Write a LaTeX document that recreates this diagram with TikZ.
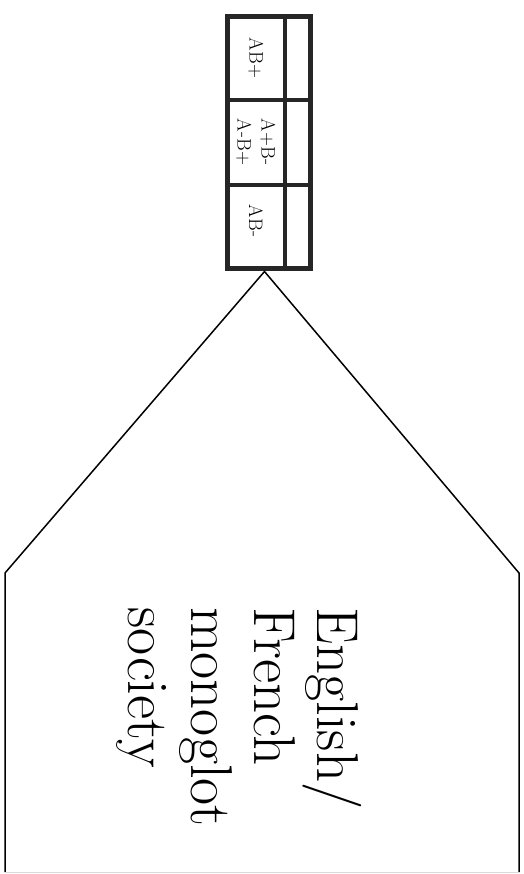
\documentclass[tikz,border=0pt]{standalone}
\begin{document}
\begin{tikzpicture}
    [x=1pt, y=-1pt,
    cell/.style={rotate=-90, inner sep=0pt, align=center, font=\fontsize{19.5}{24}\selectfont},
    society/.style={rotate=-90, inner sep=0pt, align=left, font=\fontsize{59}{63}\selectfont},
    frame/.style={draw=black!85, line width=5pt, inner sep=0pt, minimum width=83pt, minimum height=252pt},
    divider/.style={draw=black!85, line width=3.5pt},
    side/.style={line width=1.5pt}]
    \useasboundingbox (0,0) rectangle (523,874);
    \node [frame] (box) at (268.5,143) {};
    \draw [divider] (285,17) -- (285,269);
    \draw [divider] (227,100) -- (310,100);
    \draw [divider] (227,185) -- (310,185);
    \node [cell] (abpos) at (256,58) {AB+};
    \node [cell] (mixed) at (256,142) {A+B-\\A-B+};
    \node [cell] (abneg) at (256,221) {AB-};
    \coordinate (apex) at ([xshift=-4pt]box.south);
    \coordinate (lc) at (5,573);
    \coordinate (rc) at (519,573);
    \coordinate (lb) at (5,872);
    \coordinate (rb) at (519,872);
    \draw [side] (lb) -- (lc) -- (apex) -- (rc) -- (rb);
    \draw [gray!30] (lb) -- (rb);
    \node [society, anchor=north west] (lang) at (362,607) {English/\\French\\monoglot\\society};
\end{tikzpicture}
\end{document}
